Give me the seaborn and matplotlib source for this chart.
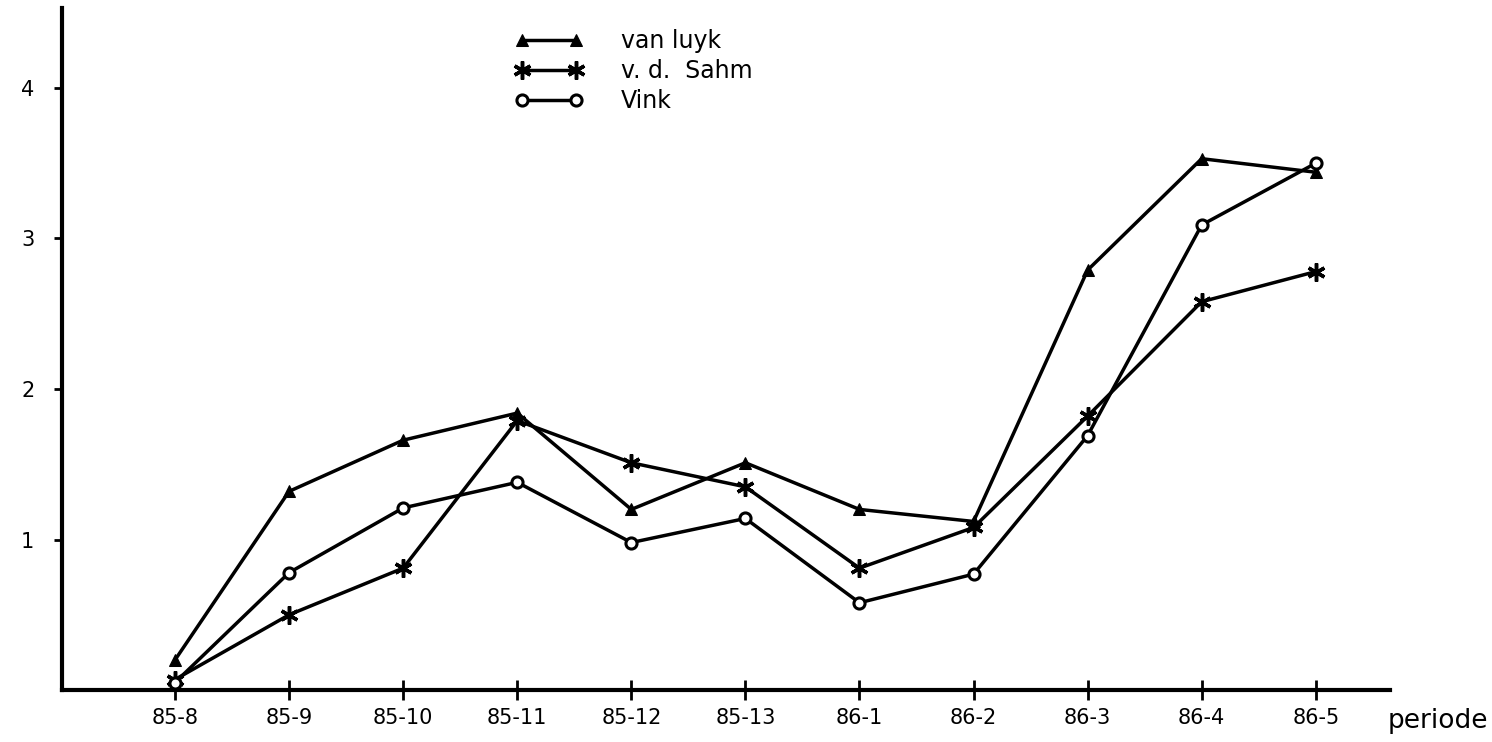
import seaborn as sns
import matplotlib.pyplot as plt
import pandas as pd

# periods on the x axis
periodes = ["85-8", "85-9", "85-10", "85-11", "85-12", "85-13",
            "86-1", "86-2", "86-3", "86-4", "86-5"]

# values
van_luyk = [0.20, 1.32, 1.66, 1.84, 1.20, 1.51, 1.20, 1.12, 2.79, 3.53, 3.44]
vd_sahm = [0.07, 0.50, 0.81, 1.79, 1.51, 1.35, 0.81, 1.08, 1.82, 2.58, 2.78]
vink = [0.05, 0.78, 1.21, 1.38, 0.98, 1.14, 0.58, 0.77, 1.69, 3.09, 3.50]

namen = ["van luyk", "v. d.  Sahm", "Vink"]


def run():
    sns.set_style("white")
    plt.rcParams['font.family'] = ['DejaVu Sans']

    fig = plt.figure(figsize=(14.92, 7.42), dpi=100)
    ax = fig.add_axes([0.0416, 0.070, 0.89, 0.919])

    pos = list(range(len(periodes)))
    styles = [
        (van_luyk, dict(marker="^", markersize=9, markerfacecolor="black")),
        (vd_sahm, dict(marker=(6, 2, 0), markersize=13, markeredgewidth=2.5)),
        (vink, dict(marker="o", markersize=8, markerfacecolor="white", markeredgewidth=2.2)),
    ]
    for (vals, kw), naam in zip(styles, namen):
        df = pd.DataFrame({"x": pos, "y": vals})
        sns.lineplot(data=df, x="x", y="y", ax=ax, color="black", linewidth=2.5,
                     markeredgecolor="black", label=naam, **kw)

    ax.set_xlim(-0.99, 10.65)
    ax.set_ylim(0, 4.53)
    ax.set_xticks(pos)
    ax.set_xticklabels(periodes, fontsize=15)
    ax.set_yticks([1, 2, 3, 4])
    ax.set_yticklabels(["1", "2", "3", "4"], fontsize=15)
    ax.set_xlabel("")
    ax.set_ylabel("")
    ax.tick_params(axis="x", bottom=True, direction="inout", length=14, width=2,
                   pad=6, colors="black")
    ax.tick_params(axis="y", left=True, direction="out", length=6, width=2,
                   pad=14, colors="black")

    sns.despine(ax=ax)
    for s in ["left", "bottom"]:
        ax.spines[s].set_linewidth(3)
        ax.spines[s].set_color("black")

    ax.text(0.998, -0.026, "periode", transform=ax.transAxes, fontsize=19,
            ha="left", va="top", color="black")

    leg = ax.legend(numpoints=2, frameon=False, fontsize=17, handlelength=2.9,
                    loc="upper left", bbox_to_anchor=(0.325, 1.0), labelspacing=0.25,
                    handletextpad=1.6)
    for t in leg.get_texts():
        t.set_color("black")

    fig.savefig("out.png", dpi=100, facecolor="white")


if __name__ == '__main__':
    run()
